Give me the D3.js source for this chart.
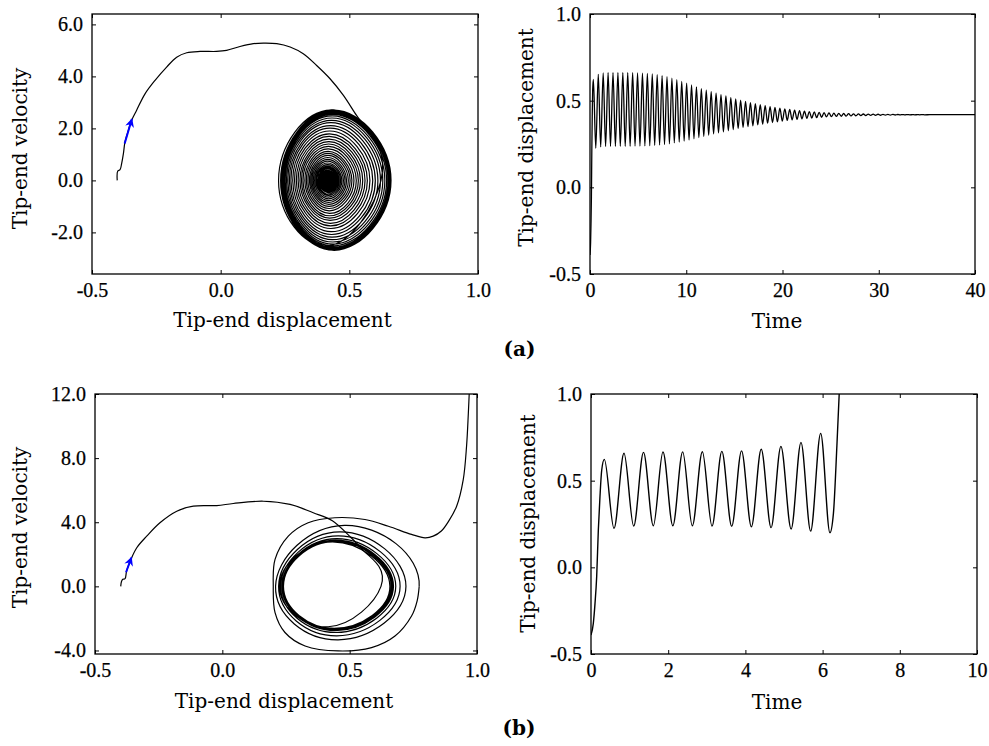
<!DOCTYPE html>
<html>
<head>
<meta charset="utf-8">
<script src="https://cdn.jsdelivr.net/npm/d3@7"></script>
<style>
  body { margin: 0; background: #fff; }
  svg text { fill: #000; }
  .axis line { stroke: #000; stroke-width: 1; }
  .axis-title { font-family: "DejaVu Serif", serif; font-size: 20px; }
  .panel-tag { font-family: "DejaVu Serif", serif; font-size: 20px; font-weight: bold; }
</style>
</head>
<body>
<svg id="fig" width="989" height="746"></svg>
<script>
// ---------- tick values ----------
const phaseDispTicks = [-0.5, 0.0, 0.5, 1.0];
const aVelTicks = [-2, 0, 2, 4, 6];
const bVelTicks = [-4, 0, 4, 8, 12];
const dispTicks = [-0.5, 0.0, 0.5, 1.0];
const aTimeTicks = [0, 10, 20, 30, 40];
const bTimeTicks = [0, 2, 4, 6, 8, 10];

// ---------- start-up rise of the tip (shared by both runs) ----------
const riseTime = [0, 0.06, 0.104, 0.147, 0.19, 0.233, 0.277];
const riseDisp = [-0.39, -0.323, -0.208, -0.054, 0.215, 0.41, 0.56];

// ---------- run (a): decaying oscillation ----------
const aPeakTime = [0.35, 0.86, 1.37, 1.88, 2.39, 2.90, 3.41, 3.92, 4.43, 4.94,
  5.45, 5.96, 6.47, 6.98, 7.49, 8.00, 8.51, 9.02, 9.53, 10.04,
  10.55, 11.06, 11.57, 12.08, 12.59, 13.10, 13.61, 14.12, 14.63, 15.14,
  15.65, 16.16, 16.67, 17.18, 17.69, 18.20, 18.71, 19.22, 19.73, 20.24,
  20.75, 21.26, 21.77, 22.28, 22.79, 23.30, 23.81, 24.32, 24.83, 25.34,
  25.85, 26.36, 26.87, 27.38, 27.89, 28.40, 28.91, 29.42, 29.93, 30.44,
  30.95, 31.46, 31.97, 32.48, 32.99, 33.50, 34.01, 34.52];
const aPeakDisp = [0.623, 0.652, 0.660, 0.662, 0.662, 0.662, 0.662, 0.662, 0.661, 0.660,
  0.659, 0.657, 0.654, 0.650, 0.645, 0.638, 0.630, 0.621, 0.611, 0.601,
  0.591, 0.580, 0.570, 0.561, 0.552, 0.543, 0.535, 0.527, 0.518, 0.510,
  0.503, 0.496, 0.489, 0.483, 0.477, 0.471, 0.466, 0.461, 0.457, 0.453,
  0.449, 0.446, 0.443, 0.440, 0.437, 0.435, 0.433, 0.431, 0.430, 0.428,
  0.427, 0.426, 0.425, 0.424, 0.4235, 0.423, 0.4225, 0.422, 0.4215, 0.421,
  0.4207, 0.4204, 0.4202, 0.4200, 0.4198, 0.4196, 0.4194, 0.4193];
const aTroughTime = [0.60, 1.11, 1.62, 2.13, 2.64, 3.15, 3.66, 4.17, 4.68, 5.19,
  5.70, 6.21, 6.72, 7.23, 7.74, 8.25, 8.76, 9.27, 9.78, 10.29,
  10.80, 11.31, 11.82, 12.33, 12.84, 13.35, 13.86, 14.37, 14.88, 15.39,
  15.90, 16.41, 16.92, 17.43, 17.94, 18.45, 18.96, 19.47, 19.98, 20.49,
  21.00, 21.51, 22.02, 22.53, 23.04, 23.55, 24.06, 24.57, 25.08, 25.59,
  26.10, 26.61, 27.12, 27.63, 28.14, 28.65, 29.16, 29.67, 30.18, 30.69,
  31.20, 31.71, 32.22, 32.73, 33.24, 33.75, 34.26, 34.77];
const aTroughDisp = [0.225, 0.233, 0.236, 0.237, 0.237, 0.237, 0.237, 0.237, 0.238, 0.238,
  0.239, 0.240, 0.242, 0.244, 0.247, 0.251, 0.256, 0.261, 0.267, 0.273,
  0.280, 0.287, 0.294, 0.301, 0.308, 0.314, 0.320, 0.327, 0.333, 0.339,
  0.345, 0.350, 0.355, 0.360, 0.365, 0.370, 0.374, 0.378, 0.382, 0.386,
  0.389, 0.392, 0.395, 0.398, 0.400, 0.402, 0.404, 0.406, 0.4075, 0.409,
  0.410, 0.411, 0.412, 0.413, 0.4138, 0.4145, 0.415, 0.4155, 0.416, 0.4165,
  0.417, 0.4173, 0.4176, 0.4179, 0.4181, 0.4183, 0.4185, 0.4186];
const aSettleTime = [35.3, 40];
const aSettleDisp = [0.419, 0.419];
// velocity extremes of each half swing (peak -> trough, trough -> next peak)
const aVelDown = [-2.52, -2.65, -2.68, -2.69, -2.69, -2.69, -2.69, -2.69, -2.68, -2.67,
  -2.66, -2.64, -2.61, -2.57, -2.52, -2.45, -2.37, -2.28, -2.18, -2.08,
  -1.97, -1.85, -1.75, -1.65, -1.54, -1.45, -1.36, -1.27, -1.17, -1.08,
  -1.00, -0.92, -0.85, -0.78, -0.71, -0.64, -0.58, -0.53, -0.47, -0.42,
  -0.38, -0.34, -0.30, -0.27, -0.23, -0.21, -0.18, -0.16, -0.14, -0.12,
  -0.11, -0.095, -0.082, -0.070, -0.061, -0.054, -0.047, -0.041, -0.035, -0.028,
  -0.023, -0.020, -0.016, -0.013, -0.011, -0.008, -0.006, -0.004];
const aVelUp = [2.70, 2.70, 2.70, 2.69, 2.69, 2.69, 2.69, 2.68, 2.67, 2.66,
  2.65, 2.62, 2.58, 2.54, 2.48, 2.40, 2.31, 2.22, 2.11, 2.01,
  1.90, 1.79, 1.69, 1.59, 1.49, 1.40, 1.31, 1.21, 1.12, 1.04,
  0.96, 0.88, 0.81, 0.74, 0.67, 0.61, 0.55, 0.50, 0.45, 0.40,
  0.36, 0.32, 0.28, 0.25, 0.22, 0.20, 0.17, 0.15, 0.13, 0.11,
  0.10, 0.089, 0.076, 0.066, 0.058, 0.051, 0.044, 0.038, 0.032, 0.027,
  0.022, 0.018, 0.015, 0.012, 0.009, 0.007, 0.005, 0.003];
// phase path from release until it joins the first swing
const aTransDisp = [-0.402, -0.400, -0.391, -0.385, -0.378, -0.372, -0.363, -0.346, -0.327, -0.294,
  -0.255, -0.21, -0.171, -0.132, -0.080, -0.016, 0.023, 0.075, 0.127, 0.166,
  0.218, 0.27, 0.321, 0.373, 0.425, 0.477, 0.528, 0.561];
const aTransVel = [0.0, 0.36, 0.41, 0.64, 1.03, 1.47, 1.79, 2.31, 2.69, 3.33,
  3.85, 4.36, 4.74, 4.91, 4.96, 4.96, 5.0, 5.15, 5.26, 5.28,
  5.26, 5.13, 4.87, 4.42, 3.91, 3.27, 2.5, 2.05];
const aArrowDisp = [-0.373, -0.345];
const aArrowVel = [1.42, 2.36];

// ---------- run (b): growing oscillation and escape ----------
const bPeakTime = [0.345, 0.855, 1.36, 1.865, 2.375, 2.885, 3.39, 3.90, 4.41, 4.92, 5.44, 5.95];
const bPeakDisp = [0.623, 0.658, 0.663, 0.665, 0.666, 0.667, 0.669, 0.672, 0.681, 0.698, 0.721, 0.773];
const bTroughTime = [0.596, 1.106, 1.615, 2.12, 2.625, 3.135, 3.645, 4.155, 4.665, 5.185, 5.69, 6.19];
const bTroughDisp = [0.225, 0.238, 0.240, 0.240, 0.240, 0.238, 0.237, 0.234, 0.229, 0.221, 0.209, 0.200];
const bEscapeTime = [6.28, 6.37, 6.43, 6.48];
const bEscapeDisp = [0.31, 0.70, 1.0, 1.3];
const bVelDown = [-2.52, -2.62, -2.64, -2.65, -2.66, -2.68, -2.70, -2.76, -2.88, -3.09, -3.34];
const bVelUp = [2.78, 2.80, 2.80, 2.81, 2.82, 2.84, 2.88, 2.98, 3.15, 3.40, 3.80];
const bTransDisp = [-0.399, -0.396, -0.391, -0.382, -0.376, -0.359, -0.336, -0.297, -0.245, -0.179,
  -0.114, -0.022, 0.043, 0.161, 0.266, 0.357, 0.432, 0.508, 0.555];
const bTransVel = [0.0, 0.3, 0.44, 0.48, 0.95, 1.68, 2.41, 3.13, 3.97, 4.69,
  5.0, 5.04, 5.17, 5.31, 5.11, 4.59, 4.1, 3.0, 2.2];
// phase path from the last peak: final swing down, over the top and out of the well
const bFinalDisp = [0.773, 0.765, 0.743, 0.678, 0.586, 0.455, 0.325, 0.246, 0.207, 0.200,
  0.207, 0.259, 0.337, 0.442, 0.56, 0.652, 0.743, 0.796, 0.828, 0.86,
  0.89, 0.92, 0.946, 0.959, 0.966, 0.971];
const bFinalVel = [0.0, -0.9, -1.85, -3.1, -3.82, -4.03, -3.72, -2.88, -1.64, 0.0,
  1.68, 3.13, 3.97, 4.28, 4.17, 3.75, 3.24, 3.03, 3.13, 3.45,
  4.1, 5.0, 6.66, 8.74, 10.8, 12.6];
const bArrowDisp = [-0.378, -0.357];
const bArrowVel = [0.88, 1.80];

// where, between trough and peak, the velocity extreme of a swing sits
const velPeakShare = 0.48;

// ---------- helpers ----------
const fmtLocale = d3.formatLocale({ decimal: ".", thousands: ",", grouping: [3], currency: ["", ""], minus: "-" });
const fmt1 = fmtLocale.format(".1f");
const fmt0 = fmtLocale.format("d");

const svg = d3.select("#fig");
const defs = svg.append("defs");
defs.append("marker")
  .attr("id", "blue-head")
  .attr("viewBox", "0 0 10 10")
  .attr("refX", 9).attr("refY", 5)
  .attr("markerWidth", 11).attr("markerHeight", 9)
  .attr("markerUnits", "userSpaceOnUse")
  .attr("orient", "auto")
  .append("path")
  .attr("d", "M0,0 L10,5 L0,10 L3,5 Z")
  .attr("fill", "#0000ff");

function styleTicks(sel) {
  sel.selectAll("text")
    .style("font-family", "'Liberation Serif', 'Times New Roman', serif")
    .style("font-size", "20px")
    .style("fill", "#000")
    .style("stroke", "#000")
    .style("stroke-width", "0.25px");
}

function panel(id, box, xDom, yDom, xTicks, yTicks, xFmt, yFmt) {
  const w = box.r - box.l, h = box.b - box.t;
  const g = svg.append("g").attr("transform", `translate(${box.l},${box.t})`);
  const x = d3.scaleLinear().domain(xDom).range([0, w]);
  const y = d3.scaleLinear().domain(yDom).range([h, 0]);
  defs.append("clipPath").attr("id", id).append("rect").attr("width", w).attr("height", h);
  const plot = g.append("g").attr("clip-path", `url(#${id})`);

  g.append("g").attr("class", "axis").attr("transform", `translate(0,${h})`)
    .call(d3.axisBottom(x).tickValues(xTicks).tickFormat(xFmt).tickSizeInner(-4).tickSizeOuter(0).tickPadding(9))
    .call(styleTicks);
  g.append("g").attr("class", "axis")
    .call(d3.axisLeft(y).tickValues(yTicks).tickFormat(yFmt).tickSizeInner(-4).tickSizeOuter(0).tickPadding(9))
    .call(styleTicks);
  g.append("g").attr("class", "axis")
    .call(d3.axisTop(x).tickValues(xTicks).tickFormat(() => "").tickSizeInner(-4).tickSizeOuter(0));
  g.append("g").attr("class", "axis").attr("transform", `translate(${w},0)`)
    .call(d3.axisRight(y).tickValues(yTicks).tickFormat(() => "").tickSizeInner(-4).tickSizeOuter(0));
  g.selectAll(".axis .domain").remove();
  g.append("rect").attr("width", w).attr("height", h)
    .attr("fill", "none").attr("stroke", "#000").attr("stroke-width", 1.3);
  return { g, plot, x, y };
}

const zip = (a, b) => a.map((v, i) => [v, b[i]]);

// alternate peaks and troughs into one displacement history
function history(peakT, peakX, troughT, troughX) {
  const pts = [];
  peakT.forEach((t, k) => {
    pts.push([t, peakX[k]]);
    pts.push([troughT[k], troughX[k]]);
  });
  return pts;
}

// phase loops: peak (v=0) -> velocity minimum -> trough (v=0) -> velocity maximum -> next peak,
// entered from the last point of the approach path
function loops(peakX, troughX, vDown, vUp, leadIn) {
  const pts = [leadIn];
  for (let k = 0; k < peakX.length; k++) {
    const p = peakX[k], q = troughX[k];
    pts.push([p, 0]);
    if (vDown[k] === undefined) break;
    pts.push([q + velPeakShare * (p - q), vDown[k]]);
    pts.push([q, 0]);
    if (k + 1 < peakX.length && vUp[k] !== undefined) {
      pts.push([q + velPeakShare * (peakX[k + 1] - q), vUp[k]]);
    }
  }
  return pts;
}

function lineGen(p, curve) {
  return d3.line().x(d => p.x(d[0])).y(d => p.y(d[1])).curve(curve);
}

function drawLine(p, data, curve, width, color) {
  p.plot.append("path")
    .attr("fill", "none")
    .attr("stroke", color || "#000")
    .attr("stroke-width", width)
    .attr("stroke-linejoin", "round")
    .attr("d", lineGen(p, curve)(data));
}

// spline through pts, shaped as if it ran on through `beyond`, but drawn only up to the last of pts
function drawLineRunOn(p, pts, beyond, curve, width) {
  const full = lineGen(p, curve)(pts.concat(beyond));
  const d = full.split("C").slice(0, pts.length).join("C");
  p.plot.append("path")
    .attr("fill", "none")
    .attr("stroke", "#000")
    .attr("stroke-width", width)
    .attr("stroke-linejoin", "round")
    .attr("d", d);
}

function drawArrow(p, xs, ys) {
  p.g.append("line")
    .attr("x1", p.x(xs[0])).attr("y1", p.y(ys[0]))
    .attr("x2", p.x(xs[1])).attr("y2", p.y(ys[1]))
    .attr("stroke", "#0000ff").attr("stroke-width", 2)
    .attr("marker-end", "url(#blue-head)");
}

function title(text, x, y, rotate) {
  svg.append("text").attr("class", "axis-title")
    .attr("text-anchor", "middle")
    .attr("transform", rotate ? `translate(${x},${y}) rotate(-90)` : `translate(${x},${y})`)
    .text(text);
}

// ---------- (a) phase portrait ----------
const pA1 = panel("clip-a1", { l: 92, t: 14, r: 478, b: 274 }, [-0.5, 1.0], [-3.6, 6.4],
  phaseDispTicks, aVelTicks, fmt1, fmt1);
const aTrans = zip(aTransDisp, aTransVel);
drawLine(pA1, aTrans, d3.curveCatmullRom.alpha(0.5), 1.2);
drawLine(pA1, loops(aPeakDisp, aTroughDisp, aVelDown, aVelUp, aTrans[aTrans.length - 1]), d3.curveNatural, 1.2);
drawArrow(pA1, aArrowDisp, aArrowVel);

// ---------- (a) time history ----------
const pA2 = panel("clip-a2", { l: 590, t: 14, r: 975, b: 274 }, [0, 40], [-0.5, 1.0],
  aTimeTicks, dispTicks, fmt0, fmt1);
drawLine(pA2, zip(riseTime, riseDisp)
  .concat(history(aPeakTime, aPeakDisp, aTroughTime, aTroughDisp))
  .concat(zip(aSettleTime, aSettleDisp)), d3.curveMonotoneX, 1.3);

// ---------- (b) phase portrait ----------
const pB1 = panel("clip-b1", { l: 95, t: 394, r: 477, b: 654 }, [-0.5, 1.0], [-4.22, 12.0],
  phaseDispTicks, bVelTicks, fmt1, fmt1);
const bTrans = zip(bTransDisp, bTransVel);
const bFinal = zip(bFinalDisp, bFinalVel);
drawLine(pB1, bTrans, d3.curveCatmullRom.alpha(0.5), 1.2);
// the loops stop at the last peak; the spline is shaped by the following bottom, trough and top
drawLineRunOn(pB1, loops(bPeakDisp, bTroughDisp, bVelDown, bVelUp, bTrans[bTrans.length - 1]),
  [bFinal[5], bFinal[9], bFinal[13]], d3.curveNatural, 1.2);
drawLine(pB1, bFinal, d3.curveCatmullRom.alpha(0.5), 1.2);
drawArrow(pB1, bArrowDisp, bArrowVel);

// ---------- (b) time history ----------
const pB2 = panel("clip-b2", { l: 591, t: 394, r: 977, b: 654 }, [0, 10], [-0.5, 1.0],
  bTimeTicks, dispTicks, fmt0, fmt1);
drawLine(pB2, zip(riseTime, riseDisp)
  .concat(history(bPeakTime, bPeakDisp, bTroughTime, bTroughDisp))
  .concat(zip(bEscapeTime, bEscapeDisp)), d3.curveMonotoneX, 1.4);

// ---------- axis titles and panel tags ----------
title("Tip-end velocity", 27, 148.5, true);
title("Tip-end displacement", 282.5, 327, false);
title("Tip-end displacement", 533, 137.5, true);
title("Time", 777, 328, false);
title("Tip-end velocity", 27, 527.5, true);
title("Tip-end displacement", 284, 707.5, false);
title("Tip-end displacement", 535, 523.5, true);
title("Time", 777, 708.5, false);

svg.append("text").attr("class", "panel-tag").attr("text-anchor", "middle")
  .attr("x", 519.5).attr("y", 356).text("(a)");
svg.append("text").attr("class", "panel-tag").attr("text-anchor", "middle")
  .attr("x", 519).attr("y", 735).text("(b)");
</script>
</body>
</html>
